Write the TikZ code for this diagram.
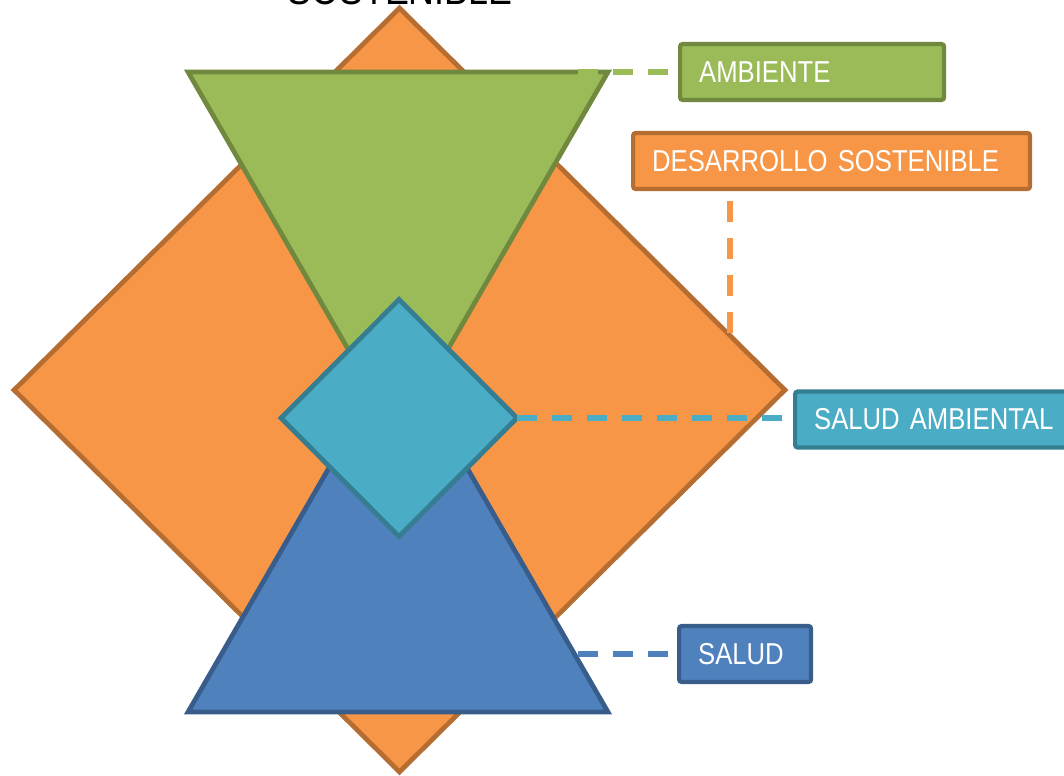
\documentclass[tikz,border=0pt]{standalone}
\usepackage{fontspec}
\newfontfamily\labelfont[FakeStretch=0.85]{Liberation Sans}
\usepackage{tikz}
\usetikzlibrary{shapes.geometric}
\definecolor{greenfill}{HTML}{9BBB59}
\definecolor{greenline}{HTML}{71893F}
\definecolor{orangefill}{HTML}{F79646}
\definecolor{orangeline}{HTML}{B66D31}
\definecolor{cyanfill}{HTML}{4BACC6}
\definecolor{cyanline}{HTML}{357D91}
\definecolor{bluefill}{HTML}{4F81BD}
\definecolor{blueline}{HTML}{385D8A}

\begin{document}
\begin{tikzpicture}[x=0.02cm, y=-0.02cm, line width=2.7pt, line join=miter,
                    bigshape/.style={inner sep=0pt, outer sep=0pt},
                    tri/.style={bigshape, regular polygon, regular polygon sides=3, minimum size=9.7cm},
                    labelbox/.style={rectangle, anchor=west, rounded corners=1.5pt, line width=2.4pt, minimum height=1.12cm, inner xsep=0.38cm, inner ysep=0pt, align=left, text=white, font=\labelfont\fontsize{17.2}{20}\selectfont},
                    link/.style={line width=3pt, dash pattern=on 0.4cm off 0.3cm}]
        \useasboundingbox (0,0) rectangle (1064,776);
        \node (Title) [anchor=base, font=\labelfont\fontsize{24}{28}\selectfont] at (400,5) {SOSTENIBLE};

        \node (DiamondBig) [bigshape, diamond, draw=orangeline, fill=orangefill, minimum width=15.42cm, minimum height=15.28cm] at (399.5,390) {};
        \node (TriangleTop) [tri, regular polygon rotate=180, draw=greenline, fill=greenfill] at (398,193.2) {};
        \node (TriangleBottom) [tri, draw=blueline, fill=bluefill] at (398,590.8) {};
        \node (DiamondSmall) [bigshape, diamond, draw=cyanline, fill=cyanfill, minimum width=4.72cm, minimum height=4.74cm] at (399,418) {};

        \node (Ambiente) [labelbox, draw=greenline, fill=greenfill, text width=4.52cm] at (678,72) {AMBIENTE};
        \node (Desarrollo) [labelbox, draw=orangeline, fill=orangefill, text width=7.18cm] at (631,161) {DESARROLLO SOSTENIBLE};
        \node (SaludAmbiental) [labelbox, draw=cyanline, fill=cyanfill, text width=4.98cm] at (793,419.5) {SALUD AMBIENTAL};
        \node (Salud) [labelbox, draw=blueline, fill=bluefill, text width=1.88cm] at (677,654) {SALUD};

        \coordinate (AmbienteTip) at (578,72);
        \coordinate (DesarrolloTip) at (730,335);
        \coordinate (SaludTip) at (578,654);

        \path[link]
        (AmbienteTip)
            edge[greenfill] (Ambiente.west)
        (Desarrollo.south -| DesarrolloTip)
            edge[orangefill, shorten <=0.2cm, dash pattern=on 0.42cm off 0.32cm] (DesarrolloTip)
        (DiamondSmall.east)
            edge[cyanfill] (DiamondSmall.east -| SaludAmbiental.west)
        (SaludTip)
            edge[bluefill] (Salud.west)
        ;
\end{tikzpicture}
\end{document}
